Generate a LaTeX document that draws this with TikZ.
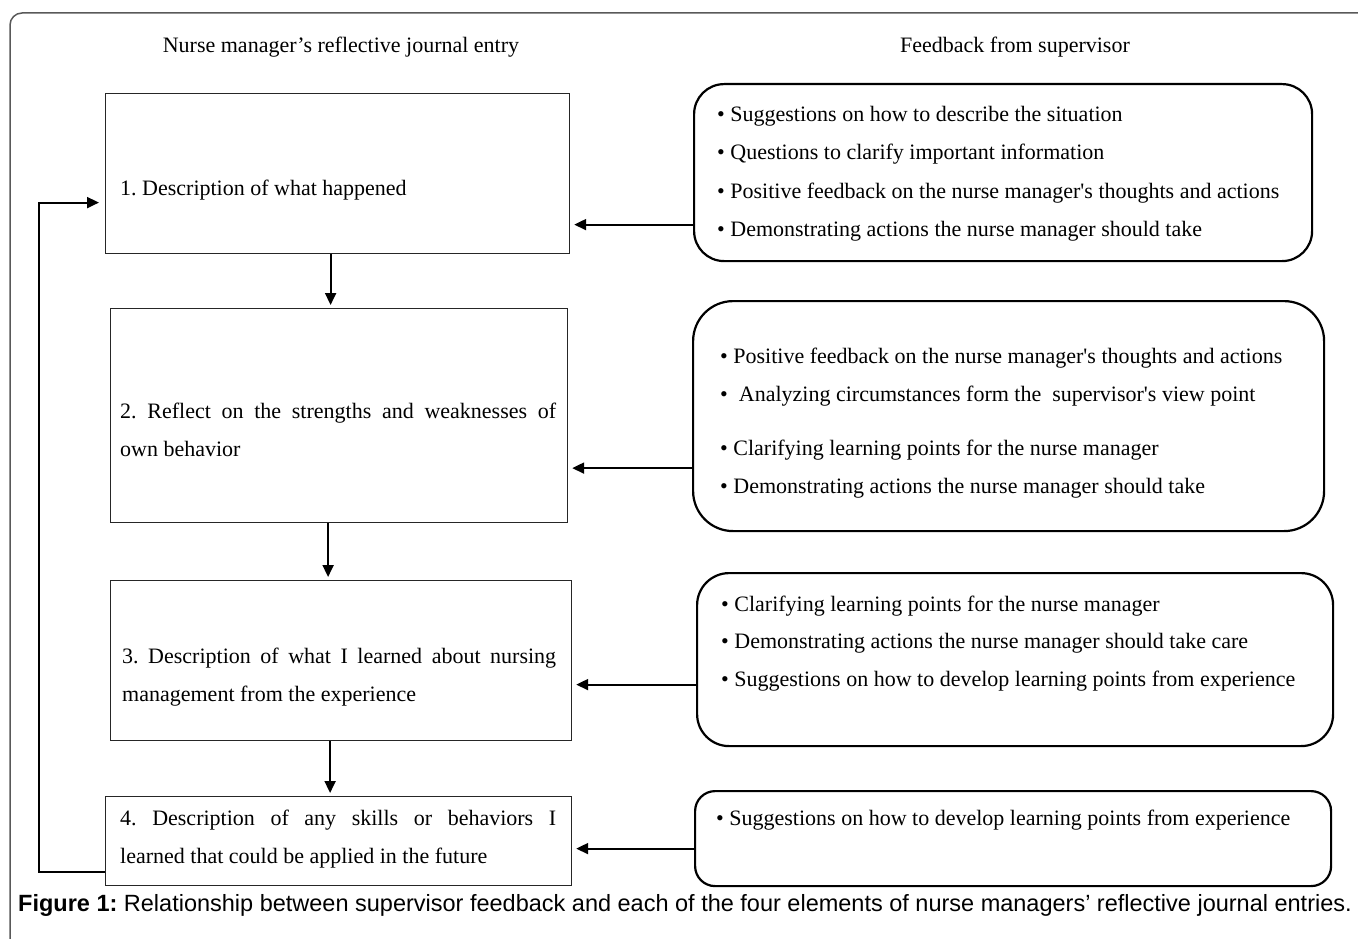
\documentclass[tikz,border=0pt]{standalone}
\usepackage{fontspec}
\setmainfont{Liberation Serif}
\newfontfamily\capfont{Liberation Sans}
\usetikzlibrary{arrows.meta}

\begin{document}
\frenchspacing
\begin{tikzpicture}[x=1pt,y=-1pt,
  entry/.style={draw=black!85,line width=1.2pt,anchor=north west,inner sep=0pt},
  fback/.style={draw,line width=2.2pt,anchor=north west,inner sep=0pt},
  txt/.style={font=\fontsize{22}{38}\selectfont,inner sep=0pt,anchor=base west},
  arr/.style={line width=2pt,-{Triangle[length=12pt,width=11pt]}}]
\useasboundingbox (0,0) rectangle (1358,939);
\draw[black!65,line width=1.5pt,rounded corners=12pt] (10,950) -- (10,13) -- (1370,13);

% column heads
\node[txt,anchor=base] (lhead) at (341,53) {Nurse manager’s reflective journal entry};
\node[txt,anchor=base] (rhead) at (1015,53) {Feedback from supervisor};

% journal entry
\node[entry,minimum width=464pt,minimum height=160pt] (entry1) at (105,93) {};
\node[entry,minimum width=457pt,minimum height=214pt] (entry2) at (110,308) {};
\node[entry,minimum width=461pt,minimum height=160pt] (entry3) at (110,580) {};
\node[entry,minimum width=466pt,minimum height=89pt] (entry4) at (105,796) {};

\node[txt] (entrytxt1) at (120,195) {1. Description of what happened};
\node[txt,text width=436pt,align=justify] (entrytxt2) at (120,418)
  {2. Reflect on the strengths and weaknesses of\linebreak own behavior};
\node[txt,text width=434pt,align=justify] (entrytxt3) at (122,663)
  {3. Description of what I learned about nursing\linebreak management from the experience};
\node[txt,text width=436pt,align=justify] (entrytxt4) at (120,825)
  {4. Description of any skills or behaviors I\linebreak learned that could be applied in the future};

% supervisor feedback
\node[fback,rounded corners=30pt,minimum width=618pt,minimum height=177pt] (fb1) at (693,83) {};
\node[fback,rounded corners=40pt,minimum width=631pt,minimum height=230pt] (fb2) at (692,300) {};
\node[fback,rounded corners=32pt,minimum width=636pt,minimum height=173pt] (fb3) at (696,572) {};
\node[fback,rounded corners=20pt,minimum width=636pt,minimum height=95pt] (fb4) at (694,790) {};

\foreach \y/\fbtext [count=\i] in {
  122/Suggestions on how to describe the situation,
  160/Questions to clarify important information,
  198/Positive feedback on the nurse manager\textquotesingle s thoughts and actions,
  236/Demonstrating actions the nurse manager should take}
  \node[txt] (fbtxt1-\i) at (717,\y) {•\ \fbtext};
\foreach \y/\fbtext [count=\i] in {
  363/Positive feedback on the nurse manager\textquotesingle s thoughts and actions,
  401/\ Analyzing circumstances form the\ \ supervisor\textquotesingle s view point,
  455/Clarifying learning points for the nurse manager,
  493/Demonstrating actions the nurse manager should take}
  \node[txt] (fbtxt2-\i) at (720,\y) {•\ \fbtext};
\foreach \y/\fbtext [count=\i] in {
  611/Clarifying learning points for the nurse manager,
  648/Demonstrating actions the nurse manager should take care,
  686/Suggestions on how to develop learning points from experience}
  \node[txt] (fbtxt3-\i) at (721,\y) {•\ \fbtext};
\node[txt] (fbtxt4-1) at (716,825) {•\ Suggestions on how to develop learning points from experience};

% arrows
\coordinate (fbout1) at ([yshift=-52pt]fb1.west);
\coordinate (fbout2) at ([yshift=-52pt]fb2.west);
\coordinate (fbout3) at ([yshift=-25pt]fb3.west);
\coordinate (fbout4) at ([yshift=-10pt]fb4.west);
\draw[arr,shorten >=4pt] (fbout1) -- (fbout1 -| entry1.east);
\draw[arr,shorten >=4pt] (fbout2) -- (fbout2 -| entry2.east);
\draw[arr,shorten >=4pt] (fbout3) -- (fbout3 -| entry3.east);
\draw[arr,shorten >=4pt] (fbout4) -- (fbout4 -| entry4.east);

\coordinate (down1) at ([xshift=-7pt]entry1.south);
\coordinate (down2) at ([xshift=-11pt]entry2.south);
\coordinate (down3) at ([xshift=-11pt]entry3.south);
\draw[arr,shorten >=3pt] (down1) -- (down1 |- entry2.north);
\draw[arr,shorten >=3pt] (down2) -- (down2 |- entry3.north);
\draw[arr,shorten >=3pt] (down3) -- (down3 |- entry4.north);

\coordinate (loopstart) at ([yshift=-31pt]entry4.west);
\coordinate (loopend) at ([yshift=-29pt]entry1.west);
\draw[arr,shorten >=6pt] (loopstart) -- ++(-66,0) |- (loopend);

% caption
\node[anchor=base west,inner sep=0pt,font=\capfont\fontsize{23.5}{26}\selectfont] (caption) at (18,911)
  {\textbf{Figure 1:} Relationship between supervisor feedback and each of the four elements of nurse managers’ reflective journal entries.};
\end{tikzpicture}
\end{document}
